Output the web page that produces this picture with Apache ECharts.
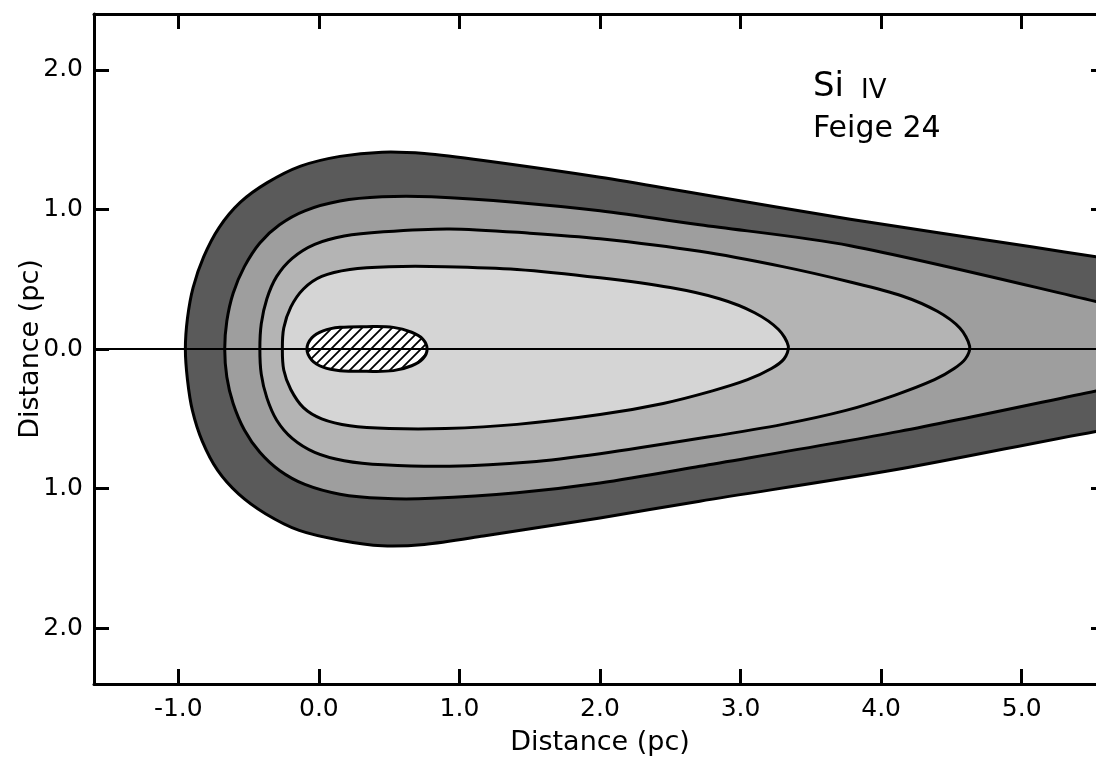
<!DOCTYPE html>
<html>
<head>
<meta charset="utf-8">
<script src="https://cdn.jsdelivr.net/npm/echarts@6/dist/echarts.min.js"></script>
<style>
html,body{margin:0;padding:0;background:#fff;}
#chart{width:1096px;height:762px;}
</style>
</head>
<body>
<div id="chart"></div>
<script>
// ---- data (distance in pc) ----
const X_TICKS = [-1, 0, 1, 2, 3, 4, 5];
const Y_TICKS = [-2, -1, 0, 1, 2];
const X_RANGE = [-1.6, 5.6];
const Y_RANGE = [-2.4, 2.4];

// outermost contour (dark band outer edge), extends past right edge
const CONTOUR_1 = [
  [-0.95, 0], [-0.935, 0.22], [-0.895, 0.44], [-0.82, 0.66], [-0.71, 0.87], [-0.56, 1.05],
  [-0.37, 1.19], [-0.13, 1.31], [0.15, 1.38], [0.45, 1.41], [0.75, 1.40], [1.17, 1.35],
  [2.0, 1.23], [2.71, 1.11], [3.78, 0.93], [5.08, 0.73], [5.53, 0.66], [6.0, 0.58], [6.2, 0.0],
  [6.0, -0.52], [5.53, -0.59], [4.13, -0.86], [2.71, -1.09], [2.0, -1.21], [1.17, -1.34],
  [0.75, -1.40], [0.45, -1.41], [0.15, -1.37], [-0.14, -1.30], [-0.38, -1.18],
  [-0.57, -1.04], [-0.72, -0.87], [-0.83, -0.66], [-0.90, -0.44], [-0.935, -0.22]
];
// second contour, extends past right edge
const CONTOUR_2 = [
  [-0.67, 0], [-0.655, 0.20], [-0.61, 0.40], [-0.53, 0.59], [-0.42, 0.76], [-0.28, 0.89],
  [-0.10, 0.99], [0.15, 1.06], [0.45, 1.09], [0.80, 1.09], [1.41, 1.05], [2.0, 0.99],
  [2.71, 0.89], [3.78, 0.74], [5.53, 0.34], [6.0, 0.22], [6.2, 0.0],
  [6.0, -0.20], [5.53, -0.30], [4.13, -0.59], [2.71, -0.84], [2.0, -0.96], [1.41, -1.03],
  [0.80, -1.07], [0.45, -1.07], [0.15, -1.04], [-0.10, -0.97], [-0.28, -0.87],
  [-0.42, -0.74], [-0.53, -0.58], [-0.61, -0.39], [-0.655, -0.20]
];
// third contour (closed)
const CONTOUR_3 = [
  [-0.42, 0], [-0.41, 0.18], [-0.37, 0.36], [-0.30, 0.52], [-0.19, 0.65], [-0.03, 0.75],
  [0.18, 0.81], [0.46, 0.84], [0.93, 0.86], [1.5, 0.83], [2.0, 0.79], [2.71, 0.70],
  [3.3, 0.59], [3.78, 0.48], [4.15, 0.38], [4.40, 0.27], [4.56, 0.15], [4.63, 0.02],
  [4.60, -0.07], [4.52, -0.14], [4.38, -0.22], [4.10, -0.33], [3.75, -0.44], [3.3, -0.54],
  [2.71, -0.64], [2.0, -0.75], [1.5, -0.81], [0.93, -0.84], [0.46, -0.83], [0.18, -0.80],
  [-0.03, -0.74], [-0.19, -0.64], [-0.30, -0.51], [-0.37, -0.35], [-0.41, -0.18]
];
// innermost contour (closed)
const CONTOUR_4 = [
  [-0.26, 0], [-0.25, 0.15], [-0.20, 0.30], [-0.11, 0.43], [0.02, 0.52], [0.22, 0.57],
  [0.50, 0.59], [0.90, 0.59], [1.41, 0.57], [2.0, 0.51], [2.5, 0.44], [2.85, 0.36],
  [3.10, 0.26], [3.27, 0.14], [3.34, 0.02], [3.31, -0.07], [3.22, -0.14], [3.05, -0.22],
  [2.80, -0.30], [2.45, -0.39], [2.0, -0.47], [1.41, -0.54], [0.90, -0.57], [0.50, -0.57],
  [0.22, -0.55], [0.02, -0.50], [-0.11, -0.42], [-0.20, -0.29], [-0.25, -0.15]
];
// hatched source region
const SOURCE = [
  [-0.085, 0], [-0.05, 0.08], [0.03, 0.13], [0.15, 0.155], [0.34, 0.16], [0.53, 0.155],
  [0.66, 0.12], [0.74, 0.07], [0.77, 0], [0.74, -0.07], [0.66, -0.12], [0.53, -0.155],
  [0.34, -0.16], [0.15, -0.155], [0.03, -0.13], [-0.05, -0.08]
];
const AXIS_LINE = [[-1.6, 0], [5.6, 0]];
const CONTOURS = [CONTOUR_1, CONTOUR_2, CONTOUR_3, CONTOUR_4];
const FILLS = ['#5a5a5a', '#9e9e9e', '#b4b4b4', '#d5d5d5'];

const FONT = 'DejaVu Sans';

// hatch pattern
const hatch = document.createElement('canvas');
hatch.width = 10; hatch.height = 10;
(function(){
  const c = hatch.getContext('2d');
  c.fillStyle = '#fff'; c.fillRect(0,0,10,10);
  c.strokeStyle = '#000'; c.lineWidth = 1.8;
  c.beginPath();
  c.moveTo(-2, 12); c.lineTo(12, -2);
  c.moveTo(-7, 7); c.lineTo(7, -7);
  c.moveTo(3, 17); c.lineTo(17, 3);
  c.stroke();
})();

const chart = echarts.init(document.getElementById('chart'), null, {renderer: 'canvas'});

const axisLineStyle = {show: true, onZero: false, lineStyle: {color: '#000', width: 3}};
const tickStyle = (vals) => ({show: true, inside: true, length: 15, customValues: vals, lineStyle: {color: '#000', width: 3}});

chart.setOption({
  animation: false,
  backgroundColor: '#fff',
  grid: {left: 94, right: -10, top: 14, bottom: 78, containLabel: false, outerBoundsMode: 'none'},
  title: [
    {text: '{a|Si} {b|IV}', left: 808, top: 59,
     textStyle: {rich: {
       a: {fontFamily: FONT, fontSize: 34, fontWeight: 'normal', color: '#000', verticalAlign: 'bottom', lineHeight: 40},
       b: {fontFamily: FONT, fontSize: 26, fontWeight: 'normal', color: '#000', verticalAlign: 'bottom', lineHeight: 40, padding: [0, 0, 0, 12]}
     }}},
    {text: 'Feige 24', left: 808, top: 109,
     textStyle: {fontFamily: FONT, fontSize: 30, fontWeight: 'normal', color: '#000'}}
  ],
  xAxis: [
    {type: 'value', min: X_RANGE[0], max: X_RANGE[1], position: 'bottom',
     axisLine: axisLineStyle, axisTick: tickStyle(X_TICKS),
     axisLabel: {customValues: X_TICKS, formatter: v => v.toFixed(1), fontFamily: FONT, fontSize: 25, color: '#000', margin: 13},
     splitLine: {show: false},
     name: 'Distance (pc)', nameLocation: 'middle', nameGap: 45, nameMoveOverlap: false,
     nameTextStyle: {fontFamily: FONT, fontSize: 27, color: '#000'}},
    {type: 'value', min: X_RANGE[0], max: X_RANGE[1], position: 'top',
     axisLine: axisLineStyle, axisTick: tickStyle(X_TICKS),
     axisLabel: {show: false}, splitLine: {show: false}}
  ],
  yAxis: [
    {type: 'value', min: Y_RANGE[0], max: Y_RANGE[1], position: 'left',
     axisLine: axisLineStyle, axisTick: tickStyle(Y_TICKS),
     axisLabel: {customValues: Y_TICKS, formatter: v => Math.abs(v).toFixed(1), fontFamily: FONT, fontSize: 25, color: '#000', margin: 11},
     splitLine: {show: false},
     name: 'Distance (pc)', nameLocation: 'middle', nameGap: 50, nameMoveOverlap: false,
     nameTextStyle: {fontFamily: FONT, fontSize: 27, color: '#000'}},
    {type: 'value', min: Y_RANGE[0], max: Y_RANGE[1], position: 'right',
     axisLine: axisLineStyle, axisTick: tickStyle(Y_TICKS),
     axisLabel: {show: false}, splitLine: {show: false}}
  ],
  series: [
    {type: 'custom', name: 'contours', clip: true, z: 2,
     data: CONTOURS.map((c, i) => i),
     renderItem: function(params, api) {
       const pts = CONTOURS[params.dataIndex].map(p => api.coord(p));
       return {type: 'polygon', shape: {points: pts, smooth: 0.3},
               style: {fill: FILLS[params.dataIndex], stroke: '#000', lineWidth: 3}};
     }},
    {type: 'custom', name: 'source', clip: true, z: 3,
     data: [0],
     renderItem: function(params, api) {
       const pts = SOURCE.map(p => api.coord(p));
       return {type: 'polygon', shape: {points: pts, smooth: 0.35},
               style: {fill: {image: hatch, repeat: 'repeat'}, stroke: '#000', lineWidth: 3}};
     }},
    {type: 'line', name: 'axis', z: 4, data: AXIS_LINE, symbol: 'none',
     lineStyle: {color: '#000', width: 2}, silent: true}
  ]
});
</script>
</body>
</html>
